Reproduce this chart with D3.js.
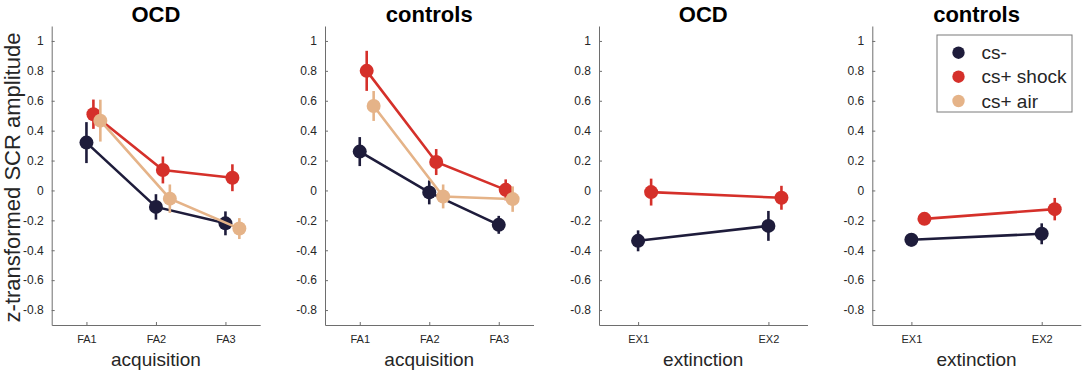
<!DOCTYPE html>
<html>
<head>
<meta charset="utf-8">
<script src="https://cdn.jsdelivr.net/npm/d3@7"></script>
<style>
  html, body { margin: 0; padding: 0; background: #fff; }
  svg { display: block; font-family: "Liberation Sans", Arial, Helvetica, sans-serif; }
</style>
</head>
<body>
<svg id="chart" width="1084" height="371"></svg>
<script>
// ---- data ----
const seriesNames = ["cs-", "cs+ shock", "cs+ air"];
const seriesColors = ["#1e1c3b", "#d5302a", "#e5b388"];
const acqCategories = ["FA1", "FA2", "FA3"];
const extCategories = ["EX1", "EX2"];
const yTickValues = [1, 0.8, 0.6, 0.4, 0.2, 0, -0.2, -0.4, -0.6, -0.8];
const yTickLabels = ["1", "0.8", "0.6", "0.4", "0.2", "0", "-0.2", "-0.4", "-0.6", "-0.8"];
const panelTitles = ["OCD", "controls", "OCD", "controls"];
const panelXLabels = ["acquisition", "acquisition", "extinction", "extinction"];

// means / SEM per series (cs-, cs+ shock, cs+ air)
const ocdAcqMeans = [[0.32, -0.11, -0.22], [0.51, 0.137, 0.085], [0.467, -0.055, -0.255]];
const ocdAcqErrs  = [[0.137, 0.085, 0.08], [0.098, 0.09, 0.09], [0.14, 0.095, 0.07]];
const ctlAcqMeans = [[0.26, -0.013, -0.23], [0.80, 0.19, 0.004], [0.565, -0.04, -0.058]];
const ctlAcqErrs  = [[0.097, 0.08, 0.06], [0.134, 0.087, 0.07], [0.10, 0.08, 0.085]];
const ocdExtMeans = [[-0.337, -0.237], [-0.011, -0.049]];
const ocdExtErrs  = [[0.07, 0.1], [0.09, 0.08]];
const ctlExtMeans = [[-0.33, -0.29], [-0.19, -0.125]];
const ctlExtErrs  = [[0.045, 0.07], [0.03, 0.075]];
const seriesOffsets = [0, 0.1, 0.2];

const panels = [
  { cats: acqCategories, means: ocdAcqMeans, errs: ocdAcqErrs, left: 51.7, dom: [0.5, 3.5] },
  { cats: acqCategories, means: ctlAcqMeans, errs: ctlAcqErrs, left: 325, dom: [0.5, 3.5] },
  { cats: extCategories, means: ocdExtMeans, errs: ocdExtErrs, left: 599, dom: [0.7, 2.3] },
  { cats: extCategories, means: ctlExtMeans, errs: ctlExtErrs, left: 872.3, dom: [0.7, 2.3] }
];

// ---- layout ----
const svg = d3.select("#chart");
const panelW = 208.5;
const yTop = 26, yBottom = 325;
const y = d3.scaleLinear().domain([-0.9, 1.1]).range([yBottom, yTop]);
const axisColor = "#6e6e6e";
const textColor = "#262626";

panels.forEach((p, pi) => {
  const x = d3.scaleLinear().domain(p.dom).range([p.left, p.left + panelW]);
  const g = svg.append("g");

  // y axis
  const yAxis = d3.axisLeft(y).tickValues(yTickValues)
    .tickFormat((d, i) => yTickLabels[i]).tickSizeInner(-3).tickSizeOuter(0).tickPadding(8);
  const ya = g.append("g").attr("transform", `translate(${p.left},0)`).call(yAxis);
  ya.select(".domain").attr("stroke", axisColor).attr("stroke-width", 1);
  ya.selectAll(".tick line").attr("stroke", axisColor);
  ya.selectAll(".tick text").attr("fill", textColor).attr("font-size", 12)
    .attr("font-family", "Liberation Sans, Arial, sans-serif");

  // x axis
  const xAxis = d3.axisBottom(x).tickValues(d3.range(1, p.cats.length + 1))
    .tickFormat(d => p.cats[d - 1]).tickSizeInner(-3).tickSizeOuter(0).tickPadding(10);
  const xa = g.append("g").attr("transform", `translate(0,${yBottom})`).call(xAxis);
  xa.select(".domain").attr("stroke", axisColor).attr("stroke-width", 1);
  xa.selectAll(".tick line").attr("stroke", axisColor);
  xa.selectAll(".tick text").attr("fill", textColor).attr("font-size", 11)
    .attr("font-family", "Liberation Sans, Arial, sans-serif");

  // title
  g.append("text").attr("x", p.left + panelW / 2).attr("y", 22)
    .attr("text-anchor", "middle").attr("font-size", 22).attr("font-weight", "bold")
    .attr("fill", "#000").text(panelTitles[pi]);

  // x label
  g.append("text").attr("x", p.left + panelW / 2).attr("y", 366)
    .attr("text-anchor", "middle").attr("font-size", 19).attr("fill", textColor)
    .text(panelXLabels[pi]);

  // series
  p.means.forEach((vals, si) => {
    const col = seriesColors[si];
    const pts = vals.map((v, ci) => ({ cx: x(ci + 1 + seriesOffsets[si]), v, e: p.errs[si][ci] }));
    const line = d3.line().x(d => d.cx).y(d => y(d.v));
    g.append("path").datum(pts).attr("d", line).attr("fill", "none")
      .attr("stroke", col).attr("stroke-width", 2.6);
    g.selectAll(null).data(pts).enter().append("line")
      .attr("x1", d => d.cx).attr("x2", d => d.cx)
      .attr("y1", d => y(d.v - d.e)).attr("y2", d => y(d.v + d.e))
      .attr("stroke", col).attr("stroke-width", 2.6);
    g.selectAll(null).data(pts).enter().append("circle")
      .attr("cx", d => d.cx).attr("cy", d => y(d.v)).attr("r", 7)
      .attr("fill", col);
  });
});

// y label
svg.append("text").attr("transform", "translate(20,177.5) rotate(-90)")
  .attr("text-anchor", "middle").attr("font-size", 22).attr("fill", textColor)
  .text("z-transformed SCR amplitude");

// legend
const lg = svg.append("g");
lg.append("rect").attr("x", 937).attr("y", 35).attr("width", 135).attr("height", 77)
  .attr("fill", "#fff").attr("stroke", "#7a7a7a").attr("stroke-width", 1);
const legendRows = [52.7, 76.7, 101];
seriesNames.forEach((name, i) => {
  lg.append("circle").attr("cx", 958.5).attr("cy", legendRows[i]).attr("r", 6.2)
    .attr("fill", seriesColors[i]);
  lg.append("text").attr("x", 981.5).attr("y", legendRows[i]).attr("dy", "0.35em")
    .attr("font-size", 19).attr("fill", textColor).text(name);
});
</script>
</body>
</html>
